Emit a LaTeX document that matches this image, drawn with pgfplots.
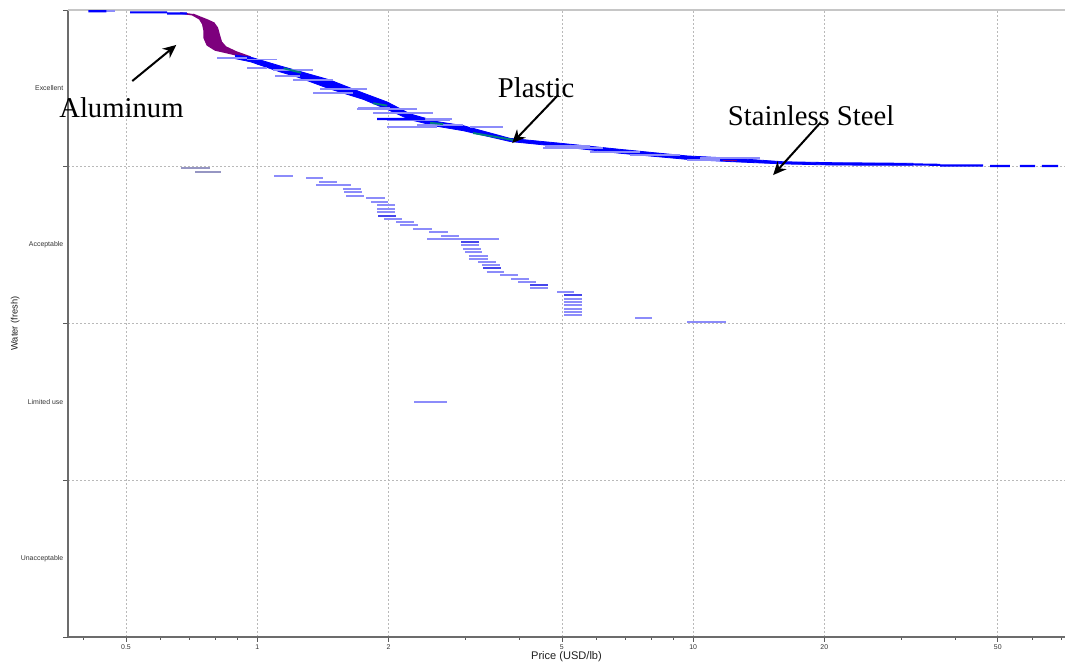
\documentclass[border=0pt]{standalone}
\usepackage{pgfplots}
\pgfplotsset{compat=1.18}
\usepackage{fontspec}
\setmainfont{Liberation Serif}
\newfontfamily\tickfont{Liberation Sans}
\usetikzlibrary{arrows.meta}
\definecolor{lblue}{RGB}{140,140,250}
\definecolor{mblue}{RGB}{70,70,235}
\definecolor{alu}{RGB}{125,0,125}
\definecolor{plas}{RGB}{0,128,128}
\definecolor{grayseg}{RGB}{150,150,195}
\begin{document}
\begin{tikzpicture}
\useasboundingbox (-51pt,-20.25pt) rectangle (747.75pt,477.75pt);
\begin{axis}[
  at={(0,0)}, anchor=south west, scale only axis,
  width=747.75pt, height=470.25pt,
  xmode=log, xmin=0.368, xmax=71.3, ymin=0, ymax=4,
  clip=false,
  axis x line*=bottom, axis y line*=left,
  axis line style={draw=gray!85!black, line width=1pt},
  xtick={0.5,1,2,5,10,20,50},
  xticklabels={0.5,1,2,5,10,20,50},
  minor xtick={0.4,0.6,0.7,0.8,0.9,3,4,6,7,8,9,30,40,60,70},
  ytick={0,1,2,3,4}, yticklabels={},
  extra y ticks={0.5,1.5,2.5,3.5},
  extra y tick labels={Unacceptable,Limited use,Acceptable,Excellent},
  extra y tick style={grid=none, major tick length=0pt},
  xmajorgrids, ymajorgrids,
  major grid style={gray!55, dash pattern=on 1.5pt off 1.5pt, line width=0.5pt},
  tick align=outside, major tick length=3.5pt, minor tick length=2pt,
  tick style={gray!70!black, line width=0.5pt},
  /pgf/number format/assume math mode=true,
  ticklabel style={font=\fontsize{5.2}{6}\tickfont, text=gray!40!black},
  xticklabel style={yshift=1pt},
  xlabel={Price (USD/lb)}, ylabel={Water (fresh)},
  xlabel style={font=\fontsize{8.3}{9}\tickfont, text=gray!25!black, at={(axis description cs:0.5,-0.032)}, anchor=center},
  ylabel style={font=\fontsize{7}{8}\tickfont, text=gray!25!black, at={(axis description cs:-0.053,0.5)}, anchor=center},
  unbounded coords=jump,
]
% top border
\draw[gray!45, line width=1.3pt] (rel axis cs:0,1) -- (rel axis cs:1,1);

% aluminium region
\addplot[fill=alu, draw=alu, line width=1.2pt, line join=round] coordinates {
 (0.666,3.981) (0.710,3.970) (0.738,3.943) (0.750,3.911) (0.756,3.866)
 (0.756,3.821) (0.768,3.777) (0.801,3.745) (0.858,3.726) (0.939,3.700)
 (0.964,3.700) (0.895,3.732) (0.846,3.764) (0.827,3.796) (0.818,3.841)
 (0.810,3.885) (0.795,3.917) (0.768,3.936) (0.738,3.955) (0.713,3.972) };

% main blue band
\addplot[fill=blue, draw=blue, line width=0.6pt] coordinates {
 (0.890,3.713) (0.964,3.700) (1.129,3.643) (1.235,3.613) (1.470,3.553)
 (1.751,3.470) (1.987,3.413) (2.243,3.337) (2.587,3.288) (2.969,3.262)
 (3.804,3.181) (4.955,3.150) (6.801,3.111) (9.687,3.069) (12.35,3.054)
 (16.09,3.032) (20.95,3.026) (31.96,3.022)
 (31.96,3.009) (20.95,3.011) (16.09,3.018) (12.35,3.032) (9.687,3.047)
 (6.801,3.086) (4.955,3.129) (3.804,3.161) (2.969,3.230) (2.587,3.258)
 (2.243,3.300) (1.987,3.366) (1.751,3.430) (1.470,3.496) (1.235,3.573)
 (1.129,3.605) (0.964,3.670) (0.890,3.690) };

% light blue scattered records (Excellent)
\addplot[lblue, line width=1.4pt] coordinates {
 (0.810,3.692) (0.948,3.692) (1,nan)
 (0.948,3.684) (1.111,3.684) (1,nan)
 (0.948,3.630) (1.054,3.630) (1,nan)
 (1.088,3.617) (1.344,3.617) (1,nan)
 (1.100,3.579) (1.255,3.579) (1,nan)
 (1.209,3.553) (1.494,3.553) (1,nan)
 (1.395,3.496) (1.788,3.496) (1,nan)
 (1.344,3.471) (1.661,3.471) (1,nan)
 (1.705,3.375) (2.018,3.375) (1,nan)
 (1.696,3.368) (2.328,3.368) (1,nan)
 (1.845,3.343) (2.533,3.343) (1,nan)
 (1.987,3.298) (2.771,3.298) (1,nan)
 (1.987,3.254) (2.587,3.254) (1,nan)
 (2.328,3.266) (2.969,3.266) (1,nan)
 (2.365,3.305) (2.800,3.305) (1,nan)
 (3.080,3.254) (3.666,3.254) (1,nan)
 (4.580,3.132) (5.800,3.132) (1,nan)
 (4.529,3.120) (6.217,3.120) (1,nan)
 (5.800,3.094) (7.550,3.094) (1,nan)
 (7.171,3.075) (9.337,3.075) (1,nan)
 (10.37,3.056) (14.25,3.056) (1,nan)
 (9.687,3.043) (11.53,3.043) (1,nan)
 (0.4506,3.992) (0.472,3.992) };

% darker blue records
\addplot[blue, line width=1.6pt] coordinates {
 (0.410,3.992) (0.4506,3.992) (1,nan)
 (0.511,3.985) (0.6215,3.985) (1,nan)
 (0.6215,3.978) (0.690,3.978) (1,nan)
 (1.885,3.305) (2.427,3.305) (1,nan)
 (31.96,3.015) (36.86,3.012) (1,nan)
 (36.86,3.008) (46.24,3.008) (1,nan)
 (48.0,3.005) (53.3,3.005) (1,nan)
 (56.2,3.005) (60.9,3.005) (1,nan)
 (63.1,3.005) (68.8,3.005) };

% plastic (teal) streaks
\addplot[plas, line width=1.4pt] coordinates {
 (1.150,3.628) (1.260,3.600) (1,nan)
 (1.845,3.405) (1.987,3.390) (1,nan)
 (2.493,3.280) (2.671,3.272) (1,nan)
 (3.129,3.215) (3.866,3.171) };
\addplot[alu, line width=1.4pt] coordinates { (11.7,3.040) (12.6,3.040) };

% Acceptable / limited use records
\addplot[grayseg, line width=1.5pt] coordinates {
 (0.668,2.990) (0.780,2.990) (1,nan)
 (0.720,2.965) (0.827,2.965) };
\addplot[lblue, line width=1.6pt] coordinates {
 (1.094,2.943) (1.209,2.943) (1,nan)
 (1.295,2.926) (1.417,2.926) (1,nan)
 (1.387,2.905) (1.526,2.905) (1,nan)
 (1.366,2.882) (1.643,2.882) (1,nan)
 (1.575,2.860) (1.732,2.860) (1,nan)
 (1.583,2.837) (1.741,2.837) (1,nan)
 (1.600,2.815) (1.759,2.815) (1,nan)
 (1.778,2.799) (1.965,2.799) (1,nan)
 (1.826,2.775) (1.998,2.775) (1,nan)
 (1.885,2.754) (2.073,2.754) (1,nan)
 (1.885,2.732) (2.073,2.732) (1,nan)
 (1.885,2.709) (2.073,2.709) (1,nan)
 (1.954,2.665) (2.149,2.665) (1,nan)
 (2.084,2.648) (2.291,2.648) (1,nan)
 (2.128,2.626) (2.340,2.626) (1,nan)
 (2.279,2.603) (2.520,2.603) (1,nan)
 (2.480,2.584) (2.743,2.584) (1,nan)
 (2.643,2.560) (2.908,2.560) (1,nan)
 (2.454,2.539) (3.577,2.539) (1,nan)
 (2.938,2.499) (3.229,2.499) (1,nan)
 (2.969,2.477) (3.264,2.477) (1,nan)
 (3.000,2.456) (3.280,2.456) (1,nan)
 (3.060,2.433) (3.380,2.433) (1,nan)
 (3.060,2.414) (3.390,2.414) (1,nan)
 (3.210,2.392) (3.530,2.392) (1,nan)
 (3.280,2.373) (3.610,2.373) (1,nan)
 (3.360,2.329) (3.690,2.329) (1,nan)
 (3.610,2.307) (3.970,2.307) (1,nan)
 (3.830,2.284) (4.210,2.284) (1,nan)
 (3.970,2.267) (4.360,2.267) (1,nan)
 (4.230,2.225) (4.650,2.225) (1,nan)
 (4.880,2.201) (5.340,2.201) (1,nan)
 (5.060,2.158) (5.560,2.158) (1,nan)
 (5.060,2.137) (5.560,2.137) (1,nan)
 (5.060,2.116) (5.560,2.116) (1,nan)
 (5.060,2.095) (5.560,2.095) (1,nan)
 (5.060,2.073) (5.560,2.073) (1,nan)
 (5.060,2.052) (5.560,2.052) (1,nan)
 (7.360,2.035) (8.050,2.035) (1,nan)
 (9.700,2.010) (11.90,2.010) (1,nan)
 (2.290,1.499) (2.730,1.499) };
\addplot[mblue, line width=1.4pt] coordinates {
 (1.895,2.688) (2.084,2.688) (1,nan)
 (2.938,2.522) (3.229,2.522) (1,nan)
 (3.300,2.352) (3.630,2.352) (1,nan)
 (4.230,2.246) (4.650,2.246) (1,nan)
 (5.060,2.180) (5.560,2.180) };

% annotations
\node[font=\fontsize{21.5}{24}\selectfont, anchor=base] at (axis cs:0.488,3.317) {Aluminum};
\draw[-{Stealth[length=10pt,width=9pt]}, line width=1.5pt] (axis cs:0.5168,3.547) -- (axis cs:0.652,3.777);
\node[font=\fontsize{21.5}{24}\selectfont, anchor=base] at (axis cs:4.365,3.439) {Plastic};
\draw[-{Stealth[length=10pt,width=9pt]}, line width=1.5pt] (axis cs:4.902,3.458) -- (axis cs:3.845,3.151);
\node[font=\fontsize{21.5}{24}\selectfont, anchor=base] at (axis cs:18.65,3.260) {Stainless Steel};
\draw[-{Stealth[length=10pt,width=9pt]}, line width=1.5pt] (axis cs:19.56,3.279) -- (axis cs:15.26,2.947);
\end{axis}
\end{tikzpicture}
\end{document}
